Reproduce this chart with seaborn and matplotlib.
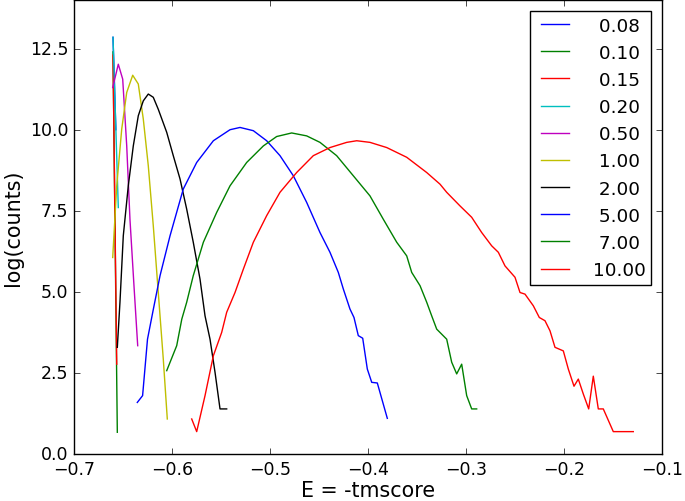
import matplotlib
matplotlib.use("Agg")
import matplotlib.pyplot as plt
import seaborn as sns
import pandas as pd

# ---- data ----
labels = [" 0.08", " 0.10", " 0.15", " 0.20", " 0.50", " 1.00", " 2.00", " 5.00", " 7.00", "10.00"]
colors = ["b", "g", "r", "c", "m", "y", "k", "b", "g", "r"]

x_008 = [-0.6602, -0.6573]
y_008 = [12.85, 10.0]

x_010 = [-0.6602, -0.6558]
y_010 = [12.4, 0.67]

x_015 = [-0.6602, -0.6564]
y_015 = [12.3, 2.77]

x_020 = [-0.6602, -0.6548]
y_020 = [12.85, 7.6]

x_050 = [-0.6605, -0.6548, -0.6503, -0.6462, -0.6429, -0.6388, -0.6350]
y_050 = [11.30, 12.02, 11.56, 9.50, 7.24, 5.19, 3.34]

x_100 = [-0.6605, -0.6564, -0.6513, -0.6462, -0.6401, -0.6344, -0.6293, -0.6242,
         -0.6191, -0.6140, -0.6089, -0.6048]
y_100 = [6.06, 8.27, 10.02, 11.15, 11.68, 11.41, 10.33, 8.89, 7.04, 4.98, 2.93, 1.08]

x_200 = [-0.6558, -0.6531, -0.6497, -0.6446, -0.6395, -0.6344, -0.6293, -0.6242,
         -0.6191, -0.6140, -0.6054, -0.5987, -0.5918, -0.5850, -0.5783, -0.5714,
         -0.5663, -0.5612, -0.5561, -0.5510, -0.5442]
y_200 = [3.29, 4.68, 6.73, 8.27, 9.50, 10.43, 10.89, 11.10, 11.00, 10.63, 9.92,
         9.20, 8.48, 7.55, 6.53, 5.39, 4.26, 3.54, 2.52, 1.39, 1.39]

x_500 = [-0.6354, -0.6300, -0.6250, -0.6190, -0.6122, -0.6020, -0.5885, -0.5748,
         -0.5578, -0.5408, -0.5306, -0.5170, -0.5034, -0.4898, -0.4762, -0.4626,
         -0.4490, -0.4388, -0.4303, -0.4252, -0.4184, -0.4143, -0.4099, -0.4054,
         -0.4007, -0.3962, -0.3905, -0.3803]
y_500 = [1.59, 1.80, 3.54, 4.47, 5.50, 6.73, 8.17, 8.99, 9.66, 10.00, 10.07, 9.97,
         9.66, 9.20, 8.58, 7.76, 6.83, 6.22, 5.60, 5.09, 4.47, 4.21, 3.65, 3.57,
         2.62, 2.21, 2.19, 1.10]

x_700 = [-0.6054, -0.5952, -0.5900, -0.5850, -0.5783, -0.5680, -0.5544, -0.5408,
         -0.5238, -0.5068, -0.4932, -0.4779, -0.4626, -0.4490, -0.4320, -0.4150,
         -0.3980, -0.3844, -0.3707, -0.3605, -0.3554, -0.3469, -0.3401, -0.3350,
         -0.3299, -0.3197, -0.3146, -0.3095, -0.3044, -0.2993, -0.2942, -0.2891]
y_700 = [2.57, 3.34, 4.16, 4.68, 5.50, 6.53, 7.45, 8.27, 8.99, 9.50, 9.79, 9.90,
         9.81, 9.61, 9.20, 8.58, 7.96, 7.24, 6.53, 6.11, 5.60, 5.19, 4.68, 4.26,
         3.85, 3.54, 2.83, 2.47, 2.77, 1.80, 1.39, 1.39]

x_1000 = [-0.5799, -0.5748, -0.5663, -0.5578, -0.5493, -0.5442, -0.5357, -0.5272,
          -0.5170, -0.5034, -0.4898, -0.4728, -0.4558, -0.4388, -0.4217, -0.4115,
          -0.3980, -0.3809, -0.3605, -0.3401, -0.3265, -0.3197, -0.3061, -0.2942,
          -0.2840, -0.2738, -0.2670, -0.2602, -0.2500, -0.2449, -0.2398, -0.2313,
          -0.2252, -0.2194, -0.2143, -0.2092, -0.2007, -0.1956, -0.1898, -0.1854,
          -0.1803, -0.1748, -0.1701, -0.1650, -0.1599, -0.1497, -0.1293]
y_1000 = [1.08, 0.69, 1.80, 3.03, 3.75, 4.37, 4.98, 5.70, 6.53, 7.35, 8.07, 8.68,
          9.20, 9.45, 9.61, 9.66, 9.61, 9.45, 9.15, 8.68, 8.32, 8.07, 7.65, 7.30,
          6.83, 6.42, 6.22, 5.80, 5.45, 4.98, 4.93, 4.57, 4.21, 4.11, 3.80, 3.29,
          3.18, 2.62, 2.09, 2.31, 1.85, 1.39, 2.40, 1.39, 1.39, 0.69, 0.69]

series_x = [x_008, x_010, x_015, x_020, x_050, x_100, x_200, x_500, x_700, x_1000]
series_y = [y_008, y_010, y_015, y_020, y_050, y_100, y_200, y_500, y_700, y_1000]

# ---- style ----
plt.style.use("classic")
plt.rcParams["font.family"] = ["DejaVu Sans"]
plt.rcParams["xtick.labelsize"] = 12.5
plt.rcParams["ytick.labelsize"] = 12.5

fig = plt.figure(figsize=(6.85, 5.02), dpi=100, facecolor="white")
ax = fig.add_axes([74 / 685, 47 / 502, (662 - 74) / 685, 455 / 502 - 0.002])
ax.set_facecolor("white")

for xs, ys, c, lab in zip(series_x, series_y, colors, labels):
    df = pd.DataFrame({"x": xs, "y": ys})
    sns.lineplot(data=df, x="x", y="y", color=c, label=lab, ax=ax,
                 sort=False, estimator=None, linewidth=1.0, legend=False)

ax.set_xlim(-0.7, -0.1)
ax.set_ylim(0, 14)
ax.set_yticks([0.0, 2.5, 5.0, 7.5, 10.0, 12.5])
ax.set_xlabel("E = -tmscore", fontsize=14.9, labelpad=2)
ax.set_ylabel("log(counts)", fontsize=14.9)

handles, labs = ax.get_legend_handles_labels()
leg = ax.legend(handles, labs, loc="upper right", fontsize=13.2, numpoints=2,
                handlelength=2.1, handletextpad=1.0, borderpad=0.3,
                labelspacing=0.5, borderaxespad=0.6, frameon=True, fancybox=False)
leg.get_frame().set_edgecolor("black")

fig.savefig("out.png", dpi=100, facecolor="white")
